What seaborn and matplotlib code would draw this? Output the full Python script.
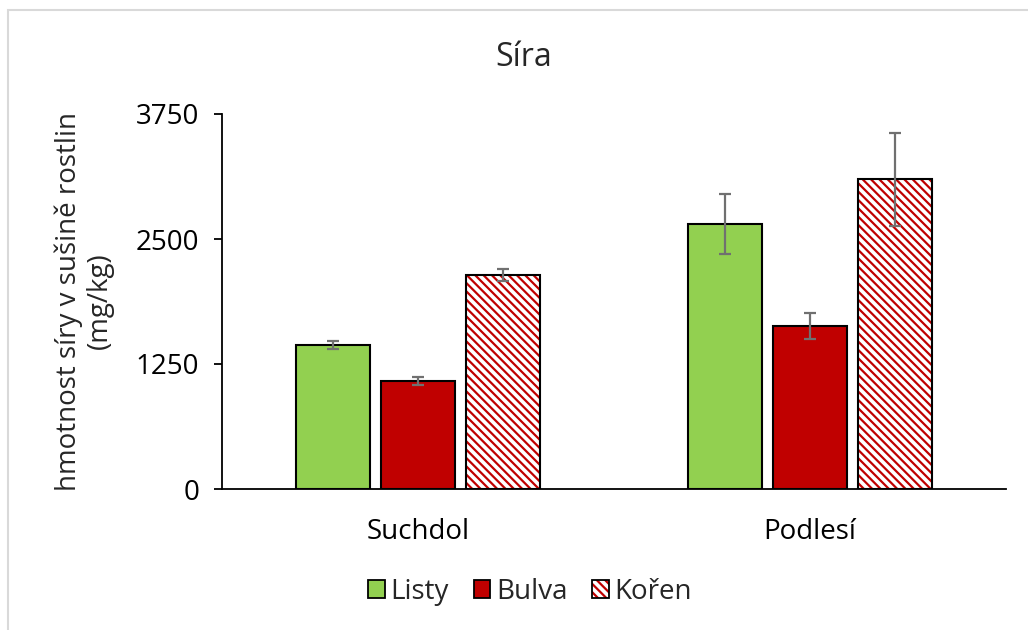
import matplotlib
matplotlib.use('Agg')
import matplotlib.pyplot as plt
import pandas as pd
import seaborn as sns
from matplotlib.patches import Patch, Rectangle

# Data
sites = ['Suchdol', 'Podlesí']
parts = ['Listy', 'Bulva', 'Kořen']
listy = [1440, 2650]
bulva = [1080, 1630]
koren = [2140, 3100]
listy_err = [40, 300]
bulva_err = [40, 130]
koren_err = [60, 465]
yticks = [0, 1250, 2500, 3750]

green = '#92D050'
red = '#C00000'

sns.set_theme(style='white')
plt.rcParams['font.family'] = ['Open Sans', 'DejaVu Sans']
plt.rcParams['hatch.linewidth'] = 1.6

df = pd.DataFrame({
    'site': sites * 3,
    'part': [p for p in parts for _ in sites],
    'value': listy + bulva + koren,
})
errs = {'Listy': listy_err, 'Bulva': bulva_err, 'Kořen': koren_err}

fig = plt.figure(figsize=(10.28, 6.3), dpi=100)
ax = fig.add_axes([222 / 1028, 1 - 489 / 630, 784 / 1028, 375 / 630])

sns.barplot(data=df, x='site', y='value', hue='part', order=sites, hue_order=parts,
            palette=[green, red, 'white'], saturation=1, width=0.65, gap=0.12,
            errorbar=None, edgecolor='black', linewidth=1.5, legend=False, ax=ax)

# hatched Kořen bars and error bars
for part, cont in zip(parts, ax.containers):
    xs = []
    ys = []
    for bar in cont:
        xs.append(bar.get_x() + bar.get_width() / 2)
        ys.append(bar.get_height())
        if part == 'Kořen':
            bar.set_facecolor('white')
            bar.set_edgecolor(red)
            bar.set_hatch('\\\\\\\\')
            bar.set_linewidth(0)
            ax.add_patch(Rectangle((bar.get_x(), 0), bar.get_width(), bar.get_height(),
                                   fill=False, edgecolor='black', linewidth=1.5, zorder=3))
    ax.errorbar(xs, ys, yerr=errs[part], fmt='none', ecolor='#707070',
                elinewidth=1.6, capsize=4.5, capthick=1.6, zorder=4)

ax.set_ylim(0, 3750)
ax.set_xlim(-0.5, 1.5)
ax.set_yticks(yticks)
ax.set_yticklabels([str(t) for t in yticks])
ax.set_xlabel('')
ax.set_ylabel('')
ax.tick_params(axis='x', length=0, labelsize=20, colors='black', pad=21)
ax.tick_params(axis='y', left=True, length=5.5, width=1.3, color='black',
               labelsize=20, labelcolor='black', pad=11)
for side in ['top', 'right']:
    ax.spines[side].set_visible(False)
for side in ['bottom', 'left']:
    ax.spines[side].set_color('black')
    ax.spines[side].set_linewidth(1.3)

fig.text(524 / 1028, 1 - 58 / 630, 'Síra', ha='center', va='center', fontsize=23)
fig.text(84 / 1028, 1 - 301 / 630, 'hmotnost síry v sušině rostlin\n(mg/kg)',
         ha='center', va='center', rotation=90, fontsize=20, multialignment='center',
         linespacing=1.15)

handles = [
    Patch(facecolor=green, edgecolor='black', linewidth=1.3),
    Patch(facecolor=red, edgecolor='black', linewidth=1.3),
    (Patch(facecolor='white', edgecolor=red, hatch='\\\\\\\\', linewidth=0),
     Patch(facecolor='none', edgecolor='black', linewidth=1.3)),
]
fig.legend(handles, parts, loc='center', bbox_to_anchor=(530 / 1028, 1 - 592 / 630),
           ncol=3, frameon=False, fontsize=20, handlelength=0.6, handleheight=0.6,
           handletextpad=0.2, columnspacing=0.9)

# light frame around the chart area
fig.patches.append(Rectangle((8 / 1028, -0.1), 1.2, 1.1 - 10 / 630, transform=fig.transFigure,
                             fill=False, edgecolor='#d9d9d9', linewidth=1.5))

fig.savefig('out.png', dpi=100)
